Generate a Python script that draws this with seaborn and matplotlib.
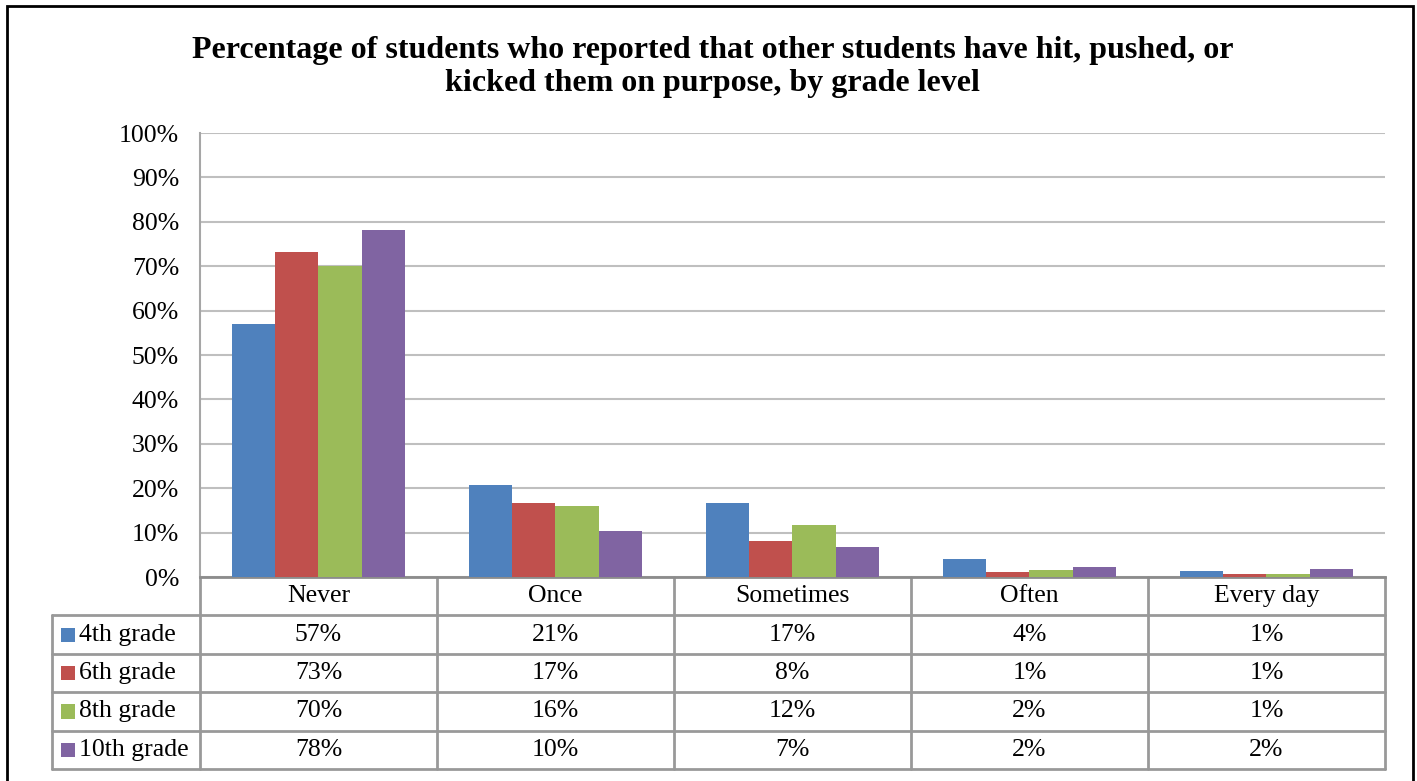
import matplotlib
matplotlib.use("Agg")
import matplotlib.pyplot as plt
import matplotlib.transforms as mtransforms
from matplotlib.lines import Line2D
from matplotlib.patches import Rectangle
import seaborn as sns
import pandas as pd

# Data
categories = ["Never", "Once", "Sometimes", "Often", "Every day"]
grades = ["4th grade", "6th grade", "8th grade", "10th grade"]
grade4 = [57.0, 20.7, 16.6, 4.0, 1.3]
grade6 = [73.2, 16.7, 8.1, 1.1, 0.7]
grade8 = [70.0, 16.0, 11.7, 1.6, 0.6]
grade10 = [78.2, 10.4, 6.8, 2.3, 1.8]
colors = ["#4F81BD", "#C0504D", "#9BBB59", "#8064A2"]

series = [grade4, grade6, grade8, grade10]
df = pd.DataFrame({
    "response": categories * len(grades),
    "grade": [g for g in grades for _ in categories],
    "pct": [v for s in series for v in s],
})

sns.set_style("white")
plt.rcParams["font.family"] = ["Liberation Serif", "DejaVu Serif"]
plt.rcParams["text.color"] = "black"
plt.rcParams["ytick.color"] = "black"

fig = plt.figure(figsize=(14.17, 7.81), dpi=100)
ax = fig.add_axes([0.1411, 0.2612, 0.8363, 0.5685])

sns.barplot(data=df, x="response", y="pct", hue="grade", order=categories,
            hue_order=grades, palette=colors, width=0.73, gap=0,
            saturation=1, edgecolor="none", legend=False, ax=ax, zorder=3)

ax.set_ylim(0, 100)
ax.set_xlim(-0.5, len(categories) - 0.5)
ax.set_yticks(range(0, 101, 10))
ax.set_yticklabels([f"{t}%" for t in range(0, 101, 10)], fontsize=18.5, color="black")
ax.tick_params(axis="y", length=0, pad=15)
ax.set_xticks([])
ax.set_xlabel("")
ax.set_ylabel("")
ax.yaxis.grid(True, color="#BFBFBF", linewidth=1.5, zorder=0)
ax.set_axisbelow(True)
for side in ["top", "right"]:
    ax.spines[side].set_visible(False)
ax.spines["left"].set_color("#A6A6A6")
ax.spines["left"].set_linewidth(1.5)
ax.spines["bottom"].set_color("#8C8C8C")
ax.spines["bottom"].set_linewidth(2)

# data table under the chart
trans = mtransforms.blended_transform_factory(ax.transData, ax.transAxes)
row_h = 0.0865
n_rows = len(grades)
bottom = -row_h * (n_rows + 1)
left_ax = -0.1249
line_kw = dict(color="#999999", linewidth=2, clip_on=False)

# vertical lines
for i in range(len(categories) + 1):
    ax.add_line(Line2D([i - 0.5, i - 0.5], [0, bottom], transform=trans, **line_kw))
ax.add_line(Line2D([left_ax, left_ax], [-row_h, bottom], transform=ax.transAxes, **line_kw))
# horizontal lines
for r in range(1, n_rows + 2):
    ax.add_line(Line2D([left_ax, 1], [-row_h * r, -row_h * r], transform=ax.transAxes, **line_kw))

for i, cat in enumerate(categories):
    ax.text(i, -row_h * 0.5, cat, transform=trans, ha="center", va="center", fontsize=18.5)
    for r, s in enumerate(series):
        ax.text(i, -row_h * (r + 1.5), f"{s[i]:.0f}%", transform=trans,
                ha="center", va="center", fontsize=18.5)

for r, (g, c) in enumerate(zip(grades, colors)):
    yc = -row_h * (r + 1.5)
    ax.add_patch(Rectangle((-0.1173, yc - 0.016), 0.0118, 0.032, transform=ax.transAxes,
                           facecolor=c, edgecolor="none", clip_on=False))
    ax.text(-0.1017, yc, g, transform=ax.transAxes, ha="left", va="center", fontsize=18.5)

fig.text(0.503, 0.914, "Percentage of students who reported that other students have hit, pushed, or\n"
         "kicked them on purpose, by grade level", ha="center", va="center",
         fontsize=23, fontweight="bold", linespacing=1.2)

# outer chart border
fig.add_artist(Rectangle((7 / 1417, -0.01), 1406 / 1417, 1 - 6 / 781 + 0.01,
                         transform=fig.transFigure, facecolor="none",
                         edgecolor="black", linewidth=2))

fig.savefig("out.png", dpi=100)
